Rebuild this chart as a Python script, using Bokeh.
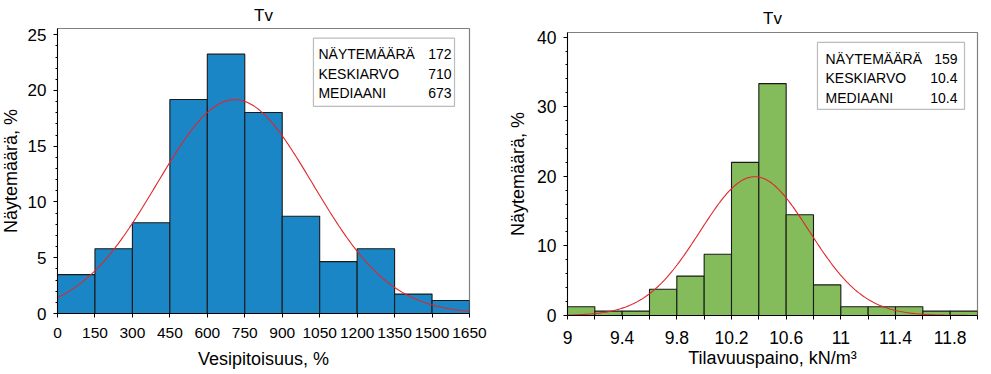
import numpy as np
from bokeh.plotting import figure
from bokeh.layouts import row
from bokeh.models import FixedTicker, BoxAnnotation, Label, Range1d
from bokeh.embed import file_html
from bokeh.resources import INLINE

# ---------------- data ----------------
chart_title = "Tv"
y_label = "Näytemäärä, %"

# Left: water content
w_edges = [0, 150, 300, 450, 600, 750, 900, 1050, 1200, 1350, 1500, 1650]
w_pct = [3.49, 5.81, 8.14, 19.19, 23.26, 18.02, 8.72, 4.65, 5.81, 1.74, 1.16]
w_xticks = [0, 150, 300, 450, 600, 750, 900, 1050, 1200, 1350, 1500, 1650]
w_yticks = [0, 5, 10, 15, 20, 25]
w_stat_names = ["NÄYTEMÄÄRÄ", "KESKIARVO", "MEDIAANI"]
w_stat_values = ["172", "710", "673"]
w_fit_mean = 710.0
w_fit_sd = 312.0
w_xlabel = "Vesipitoisuus, %"

# Right: unit weight
g_edges = [9.0, 9.2, 9.4, 9.6, 9.8, 10.0, 10.2, 10.4, 10.6, 10.8, 11.0, 11.2, 11.4, 11.6, 11.8, 12.0]
g_pct = [1.26, 0.63, 0.63, 3.77, 5.66, 8.81, 22.01, 33.33, 14.47, 4.40, 1.26, 1.26, 1.26, 0.63, 0.63]
g_xticks = [9.0, 9.4, 9.8, 10.2, 10.6, 11.0, 11.4, 11.8]
g_xtick_labels = ["9", "9.4", "9.8", "10.2", "10.6", "11", "11.4", "11.8"]
g_xminor = [9.2, 9.6, 10.0, 10.4, 10.8, 11.2, 11.6, 12.0]
g_yticks = [0, 10, 20, 30, 40]
g_stat_names = ["NÄYTEMÄÄRÄ", "KESKIARVO", "MEDIAANI"]
g_stat_values = ["159", "10.4", "10.4"]
g_fit_mean = 10.37
g_fit_sd = 0.40
g_xlabel = "Tilavuuspaino, kN/m\u00b3"

FONT = "Liberation Sans"
BLUE = "#1b86c6"
GREEN = "#84bc5b"
RED = "#e0262b"


def normal_curve(edges, mean, sd, n=300):
    binw = edges[1] - edges[0]
    x = np.linspace(edges[0], edges[-1], n)
    y = 100.0 * binw / (sd * np.sqrt(2 * np.pi)) * np.exp(-0.5 * ((x - mean) / sd) ** 2)
    return x, y


def make_fig(edges, pct, color, xr, yr, fw, fh, mbl, mbr, mbt, mbb,
             xticks, xminor, yticks, yminor, xtick_font, ytick_font,
             xlabel, fit_mean, fit_sd, xtick_standoff, xlabel_standoff,
             ylabel_standoff, title_standoff, margin):
    p = figure(frame_width=fw, frame_height=fh, x_range=Range1d(*xr), y_range=Range1d(*yr),
               output_backend="svg", toolbar_location=None,
               min_border_left=mbl, min_border_right=mbr,
               min_border_top=mbt, min_border_bottom=mbb, margin=margin)
    p.title.text = chart_title
    p.title.align = "center"
    p.title.text_font = FONT
    p.title.text_font_size = "17px"
    p.title.text_font_style = "normal"
    p.title.text_color = "black"
    p.title.standoff = title_standoff
    p.title.offset = 0

    p.xgrid.visible = False
    p.ygrid.visible = False
    p.outline_line_color = "#808080"
    p.outline_line_width = 1.2
    p.background_fill_color = "white"
    p.border_fill_color = "white"

    p.quad(left=edges[:-1], right=edges[1:], bottom=0, top=pct,
           fill_color=color, line_color="#1a1a1a", line_width=1.1)
    cx, cy = normal_curve(edges, fit_mean, fit_sd)
    p.line(cx, cy, line_color=RED, line_width=1.1)

    xa = p.xaxis[0]
    xa.ticker = FixedTicker(ticks=xticks, minor_ticks=xminor)
    xa.axis_label = xlabel
    xa.axis_label_text_font = FONT
    xa.axis_label_text_font_size = "18px"
    xa.axis_label_text_font_style = "normal"
    xa.axis_label_text_color = "black"
    xa.axis_label_standoff = xlabel_standoff
    xa.major_label_text_font = FONT
    xa.major_label_text_font_size = xtick_font
    xa.major_label_text_color = "black"
    xa.major_label_standoff = xtick_standoff
    xa.axis_line_color = "black"
    xa.major_tick_line_color = "black"
    xa.minor_tick_line_color = "black"
    xa.major_tick_out = 4
    xa.major_tick_in = 0
    xa.minor_tick_out = 4
    xa.minor_tick_in = 0

    ya = p.yaxis[0]
    ya.ticker = FixedTicker(ticks=yticks, minor_ticks=yminor)
    ya.axis_label = y_label
    ya.axis_label_text_font = FONT
    ya.axis_label_text_font_size = "18px"
    ya.axis_label_text_font_style = "normal"
    ya.axis_label_text_color = "black"
    ya.axis_label_standoff = ylabel_standoff
    ya.major_label_text_font = FONT
    ya.major_label_text_font_size = ytick_font
    ya.major_label_text_color = "black"
    ya.major_label_standoff = 7
    ya.axis_line_color = "black"
    ya.major_tick_line_color = "black"
    ya.minor_tick_line_color = "black"
    ya.major_tick_out = 4
    ya.major_tick_in = 0
    ya.minor_tick_out = 2
    ya.minor_tick_in = 0
    return p


def add_stats(p, box, text_x, value_x, row_ys, names, values):
    l, r, b, t = box
    p.add_layout(BoxAnnotation(left=l, right=r, bottom=b, top=t,
                               fill_color="white", fill_alpha=1.0,
                               line_color="#222222", line_width=1.2, level="overlay"))
    for yy, nm, vv in zip(row_ys, names, values):
        p.add_layout(Label(x=text_x, y=yy, text=nm, text_font=FONT, text_font_size="14px",
                           text_baseline="middle", text_align="left", text_color="black",
                           level="overlay"))
        p.add_layout(Label(x=value_x, y=yy, text=vv, text_font=FONT, text_font_size="14px",
                           text_baseline="middle", text_align="right", text_color="black",
                           level="overlay"))


p1 = make_fig(w_edges, w_pct, BLUE, (0, 1650), (0, 25.56), 412, 285, 55, 26, 10, 30,
              w_xticks, [], w_yticks, [v for v in range(0, 26) if v % 5 != 0],
              "15.5px", "17px", w_xlabel, w_fit_mean, w_fit_sd, 10, 8, 4, 7,
              (-2, 0, 0, -3))
add_stats(p1, (1025, 1590, 18.58, 24.69), 1045, 1578, [23.25, 21.45, 19.75],
          w_stat_names, w_stat_values)

p2 = make_fig(g_edges, g_pct, GREEN, (9, 12), (0, 40.67), 410, 283, 72, 3, 10, 30,
              g_xticks, g_xminor, g_yticks, [v for v in range(0, 41, 2) if v % 10 != 0],
              "17.5px", "17.5px", g_xlabel, g_fit_mean, g_fit_sd, 11, 1, 6, 9,
              (2, 0, 0, 0))
p2.xaxis[0].major_label_overrides = {t: s for t, s in zip(g_xticks, g_xtick_labels)}
add_stats(p2, (10.829, 11.905, 29.61, 39.24), 10.888, 11.854, [36.79, 34.06, 31.19],
          g_stat_names, g_stat_values)

layout = row(p1, p2)
open("out.html", "w").write(file_html(layout, INLINE))
